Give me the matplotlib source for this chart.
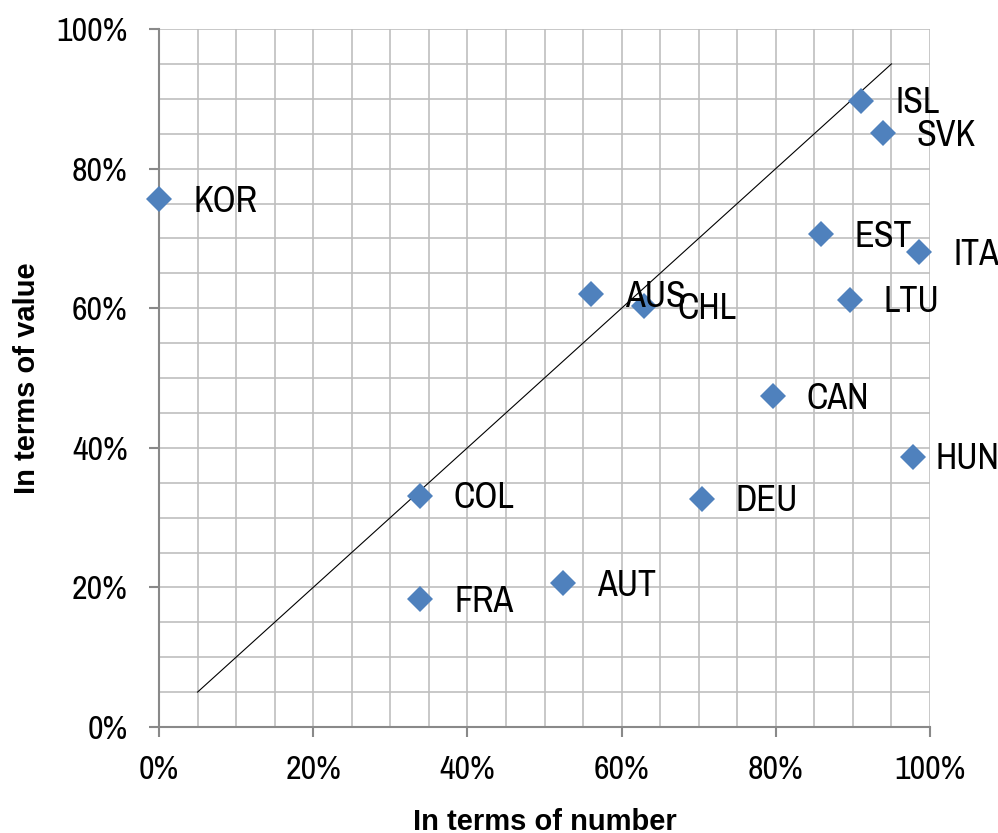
import matplotlib
matplotlib.use("Agg")
import matplotlib.pyplot as plt
from matplotlib.ticker import MultipleLocator, PercentFormatter

countries = ["KOR", "ISL", "SVK", "EST", "ITA", "LTU", "AUS", "CHL",
             "CAN", "HUN", "COL", "DEU", "FRA", "AUT"]
by_number = [0.0, 91.1, 93.9, 85.8, 98.6, 89.6, 56.0, 62.9,
             79.6, 97.8, 33.8, 70.4, 33.9, 52.4]
by_value = [75.6, 89.7, 85.1, 70.6, 68.0, 61.2, 62.0, 60.3,
            47.4, 38.7, 33.1, 32.7, 18.3, 20.6]
diag = [5, 95]

FONT = ["Archivo Narrow", "Liberation Sans", "DejaVu Sans"]
BOLD_FONT = ["Liberation Sans", "DejaVu Sans"]
plt.rcParams["font.family"] = FONT

fig = plt.figure(figsize=(9.98, 8.33), dpi=100)
ax = fig.add_axes([159 / 998, 1 - 727 / 833, 771 / 998, 698 / 833])

ax.set_xlim(0, 100)
ax.set_ylim(0, 100)

grid_c = "#BFBFBF"
axis_c = "#898989"
ax.xaxis.set_major_locator(MultipleLocator(20))
ax.yaxis.set_major_locator(MultipleLocator(20))
ax.xaxis.set_minor_locator(MultipleLocator(5))
ax.yaxis.set_minor_locator(MultipleLocator(5))
ax.grid(which="both", color=grid_c, linewidth=1.2)
ax.set_axisbelow(True)
ax.xaxis.set_major_formatter(PercentFormatter(decimals=0))
ax.yaxis.set_major_formatter(PercentFormatter(decimals=0))

for s in ("top", "right"):
    ax.spines[s].set_visible(False)
for s in ("left", "bottom"):
    ax.spines[s].set_color(axis_c)
    ax.spines[s].set_linewidth(1.5)
    ax.spines[s].set_zorder(2.5)

ax.tick_params(which="major", direction="out", length=7.5, width=1.5,
               color=axis_c, labelsize=24.5, labelcolor="black")
ax.tick_params(axis="y", which="major", pad=15)
ax.tick_params(axis="x", which="major", pad=13)
ax.tick_params(which="minor", length=0)

ax.plot(diag, diag, color="black", linewidth=0.8, zorder=3)

ax.plot(by_number, by_value, linestyle="none", marker="D", markersize=13,
        color="#4F81BD", markeredgewidth=0, zorder=4, clip_on=False)

label_dx = {"HUN": 16}
for name, xv, yv in zip(countries, by_number, by_value):
    ax.annotate(name, (xv, yv), xytext=(label_dx.get(name, 24.5), -9),
                textcoords="offset points", ha="left", va="baseline",
                fontsize=26, color="black", zorder=5, annotation_clip=False)

ax.set_xlabel("In terms of number", fontsize=21, fontweight="bold",
              family=BOLD_FONT, va="baseline", ha="center")
ax.xaxis.set_label_coords(0.5, (727 - 830) / 698)
ax.set_ylabel("In terms of value", fontsize=21, fontweight="bold",
              family=BOLD_FONT, va="center", ha="center")
ax.yaxis.set_label_coords((27 - 159) / 771, 0.5)

fig.savefig("out.png", dpi=100)
